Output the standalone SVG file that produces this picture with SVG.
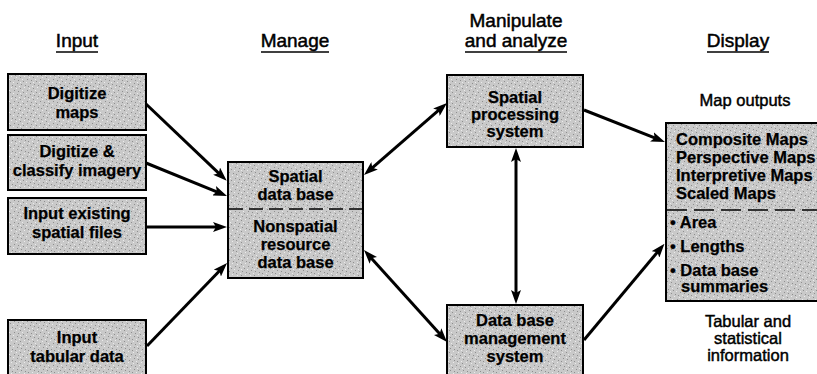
<svg xmlns="http://www.w3.org/2000/svg" width="817" height="374" viewBox="0 0 817 374">
  <style>
    .box { fill: url(#stipple); stroke: #000; stroke-width: 2; }
    .lbl { font-family: "Liberation Sans", Arial, sans-serif; font-weight: bold; font-size: 16.5px; fill: #000; stroke: #000; stroke-width: 0.25; text-anchor: middle; }
    .lft { text-anchor: start; }
    .hdr { font-family: "Liberation Sans", Arial, sans-serif; font-size: 19px; fill: #000; stroke: #000; stroke-width: 0.5; text-anchor: middle; }
    .cap { font-family: "Liberation Sans", Arial, sans-serif; font-size: 16.5px; fill: #000; stroke: #000; stroke-width: 0.45; text-anchor: middle; }
    .uline { stroke: #000; stroke-width: 1.5; }
    .div { fill: none; stroke: #000; stroke-width: 1.3; }
    .conn { fill: none; stroke: #000; stroke-width: 3; }
  </style>
  <defs>
    <!-- grey halftone fill used by every box -->
    <pattern id="stipple" width="13" height="11" patternUnits="userSpaceOnUse">
      <rect width="13" height="11" fill="#c9c9c9"/>
      <g fill="#8e8e8e">
        <rect x="1" y="2" width="1" height="1"/>
        <rect x="7" y="0" width="1" height="1"/>
        <rect x="10" y="4" width="1" height="1"/>
        <rect x="4" y="6" width="1" height="1"/>
        <rect x="12" y="8" width="1" height="1"/>
        <rect x="2" y="9" width="1" height="1"/>
        <rect x="8" y="7" width="1" height="1"/>
        <rect x="5" y="3" width="1" height="1"/>
      </g>
      <g fill="#ebebeb">
        <rect x="3" y="0" width="1" height="1"/>
        <rect x="9" y="2" width="1" height="1"/>
        <rect x="0" y="5" width="1" height="1"/>
        <rect x="6" y="9" width="1" height="1"/>
        <rect x="11" y="10" width="1" height="1"/>
        <rect x="7" y="5" width="1" height="1"/>
      </g>
    </pattern>
    <marker id="head" viewBox="0 0 14 10" markerWidth="14" markerHeight="10" markerUnits="userSpaceOnUse" refX="5" refY="5" orient="auto-start-reverse">
      <path d="M0,0 L14,5 L0,10 L3,5 z" fill="#000"/>
    </marker>
  </defs>

  <rect width="817" height="374" fill="#fff"/>

  <!-- Column headings -->
  <g id="headings">
    <text class="hdr" x="77" y="47">Input</text>
    <line class="uline" x1="56" y1="52" x2="98" y2="52"/>
    <text class="hdr" x="295" y="47">Manage</text>
    <line class="uline" x1="261" y1="52" x2="329" y2="52"/>
    <text class="hdr" x="516" y="27">Manipulate</text>
    <text class="hdr" x="516" y="47">and analyze</text>
    <line class="uline" x1="465" y1="52" x2="567" y2="52"/>
    <text class="hdr" x="738" y="47">Display</text>
    <line class="uline" x1="707" y1="52" x2="769" y2="52"/>
  </g>

  <!-- Input boxes -->
  <g id="digitize-maps">
    <rect class="box" x="8" y="74" width="138" height="56"/>
    <text class="lbl" x="77" y="99">Digitize</text>
    <text class="lbl" x="77" y="118">maps</text>
  </g>
  <g id="digitize-imagery">
    <rect class="box" x="8" y="135" width="138" height="55"/>
    <text class="lbl" x="77" y="157">Digitize &amp;</text>
    <text class="lbl" x="77" y="176">classify imagery</text>
  </g>
  <g id="input-spatial-files">
    <rect class="box" x="8" y="198" width="138" height="56"/>
    <text class="lbl" x="77" y="219">Input existing</text>
    <text class="lbl" x="77" y="238">spatial files</text>
  </g>
  <g id="input-tabular">
    <rect class="box" x="8" y="320" width="138" height="62"/>
    <text class="lbl" x="77" y="343">Input</text>
    <text class="lbl" x="77" y="362">tabular data</text>
  </g>

  <!-- Data base -->
  <g id="data-base">
    <rect class="box" x="228" y="162" width="135" height="116"/>
    <line class="div" x1="229" y1="209" x2="362" y2="209" stroke-dasharray="14 6"/>
    <text class="lbl" x="295.5" y="182">Spatial</text>
    <text class="lbl" x="295.5" y="200">data base</text>
    <text class="lbl" x="295.5" y="232">Nonspatial</text>
    <text class="lbl" x="295.5" y="250">resource</text>
    <text class="lbl" x="295.5" y="268">data base</text>
  </g>

  <!-- Processing -->
  <g id="spatial-processing">
    <rect class="box" x="447" y="75" width="136" height="72"/>
    <text class="lbl" x="515" y="103">Spatial</text>
    <text class="lbl" x="515" y="120">processing</text>
    <text class="lbl" x="515" y="137">system</text>
  </g>
  <g id="dbms">
    <rect class="box" x="447" y="305" width="136" height="77"/>
    <text class="lbl" x="515" y="326">Data base</text>
    <text class="lbl" x="515" y="344">management</text>
    <text class="lbl" x="515" y="362">system</text>
  </g>

  <!-- Display -->
  <g id="display">
    <text class="cap" x="745" y="106">Map outputs</text>
    <rect class="box" x="666" y="123" width="160" height="178"/>
    <text class="lbl lft" x="676" y="145">Composite Maps</text>
    <text class="lbl lft" x="676" y="163">Perspective Maps</text>
    <text class="lbl lft" x="676" y="181">Interpretive Maps</text>
    <text class="lbl lft" x="676" y="199">Scaled Maps</text>
    <line class="div" x1="667" y1="210" x2="817" y2="210" stroke-dasharray="20 7"/>
    <text class="lbl lft" x="670" y="228">• Area</text>
    <text class="lbl lft" x="670" y="252">• Lengths</text>
    <text class="lbl lft" x="670" y="276">• Data base</text>
    <text class="lbl lft" x="681" y="292">summaries</text>
    <text class="cap" x="748" y="327">Tabular and</text>
    <text class="cap" x="748" y="344">statistical</text>
    <text class="cap" x="748" y="361">information</text>
  </g>

  <!-- Connectors -->
  <g id="connectors">
    <path class="conn" d="M146,104 L220.2,174.6" marker-end="url(#head)"/>
    <path class="conn" d="M146,163 L218.7,192.6" marker-end="url(#head)"/>
    <path class="conn" d="M146,227 L218,227" marker-end="url(#head)"/>
    <path class="conn" d="M147,346 L220.8,269.5" marker-end="url(#head)"/>
    <path class="conn" d="M370.8,169.1 L440.2,108.9" marker-start="url(#head)" marker-end="url(#head)"/>
    <path class="conn" d="M370,256.7 L441,335.3" marker-start="url(#head)" marker-end="url(#head)"/>
    <path class="conn" d="M584,110 L656.6,138.7" marker-end="url(#head)"/>
    <path class="conn" d="M584,340 L658.7,250.6" marker-end="url(#head)"/>
    <path class="conn" d="M516,157 L516,295" marker-start="url(#head)" marker-end="url(#head)"/>
  </g>
</svg>
